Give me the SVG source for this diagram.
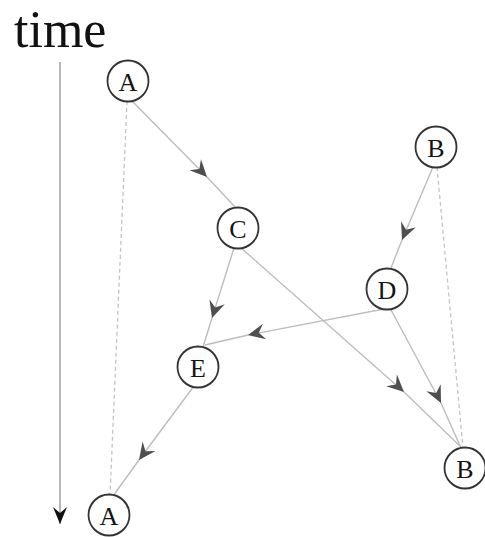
<svg xmlns="http://www.w3.org/2000/svg" width="485" height="537" viewBox="0 0 485 537">
  <style>
    .edge { fill: none; stroke: #bdbdbd; stroke-width: 1.4; }
    .axis { fill: none; stroke: #9a9a9a; stroke-width: 1.4; }
    .dash { fill: none; stroke: #c4c4c4; stroke-width: 1.3; stroke-dasharray: 4 3; }
    .node circle { fill: #fff; stroke: #333; stroke-width: 1.8; }
    .node text { font-family: "Liberation Serif", "DejaVu Serif", serif; font-size: 26px; fill: #141414; text-anchor: middle; dominant-baseline: central; }
    .title { font-family: "Liberation Serif", "DejaVu Serif", serif; font-size: 52px; fill: #111; }
  </style>
  <defs>
    <marker id="chev" viewBox="-18 -9 19 18" refX="0" refY="0" markerWidth="19" markerHeight="18" markerUnits="userSpaceOnUse" orient="auto">
      <path d="M0,0 L-17,-8 L-11,0 L-17,8 Z" fill="#4f4f4f"/>
    </marker>
    <marker id="chev-dark" viewBox="-18 -9 19 18" refX="0" refY="0" markerWidth="19" markerHeight="18" markerUnits="userSpaceOnUse" orient="auto">
      <path d="M0,0 L-17,-7 L-11,0 L-17,7 Z" fill="#111"/>
    </marker>
  </defs>

  <!-- time axis -->
  <text class="title" x="14" y="47">time</text>
  <polyline class="axis" points="60,62 60,524" marker-end="url(#chev-dark)"/>

  <g id="connectors">
    <!-- version links (dashed) -->
    <line class="dash" x1="127" y1="101" x2="110" y2="495"/>
    <line class="dash" x1="437" y1="167" x2="463" y2="448"/>
    <!-- causal edges, arrowhead placed mid-way -->
    <polyline class="edge" points="131,100 207,177 236,208" marker-mid="url(#chev)"/>
    <polyline class="edge" points="433,167 402,240 391,268" marker-mid="url(#chev)"/>
    <polyline class="edge" points="234,248 212,318 203,347" marker-mid="url(#chev)"/>
    <polyline class="edge" points="384,309 248,335 205,345" marker-mid="url(#chev)"/>
    <polyline class="edge" points="240,247 404,392 462,448" marker-mid="url(#chev)"/>
    <polyline class="edge" points="390,308 441,403 461,448" marker-mid="url(#chev)"/>
    <polyline class="edge" points="194,386 139,460 113,496" marker-mid="url(#chev)"/>
  </g>

  <g id="node-A1" class="node"><circle cx="128" cy="81" r="20.5"/><text x="128" y="82">A</text></g>
  <g id="node-B1" class="node"><circle cx="436" cy="147" r="20.5"/><text x="436" y="148">B</text></g>
  <g id="node-C" class="node"><circle cx="238" cy="228" r="20.5"/><text x="238" y="229">C</text></g>
  <g id="node-D" class="node"><circle cx="387" cy="289" r="20.5"/><text x="387" y="290">D</text></g>
  <g id="node-E" class="node"><circle cx="198" cy="367" r="20.5"/><text x="198" y="368">E</text></g>
  <g id="node-B2" class="node"><circle cx="465" cy="468" r="20.5"/><text x="465" y="469">B</text></g>
  <g id="node-A2" class="node"><circle cx="109" cy="515" r="20.5"/><text x="109" y="516">A</text></g>
</svg>
